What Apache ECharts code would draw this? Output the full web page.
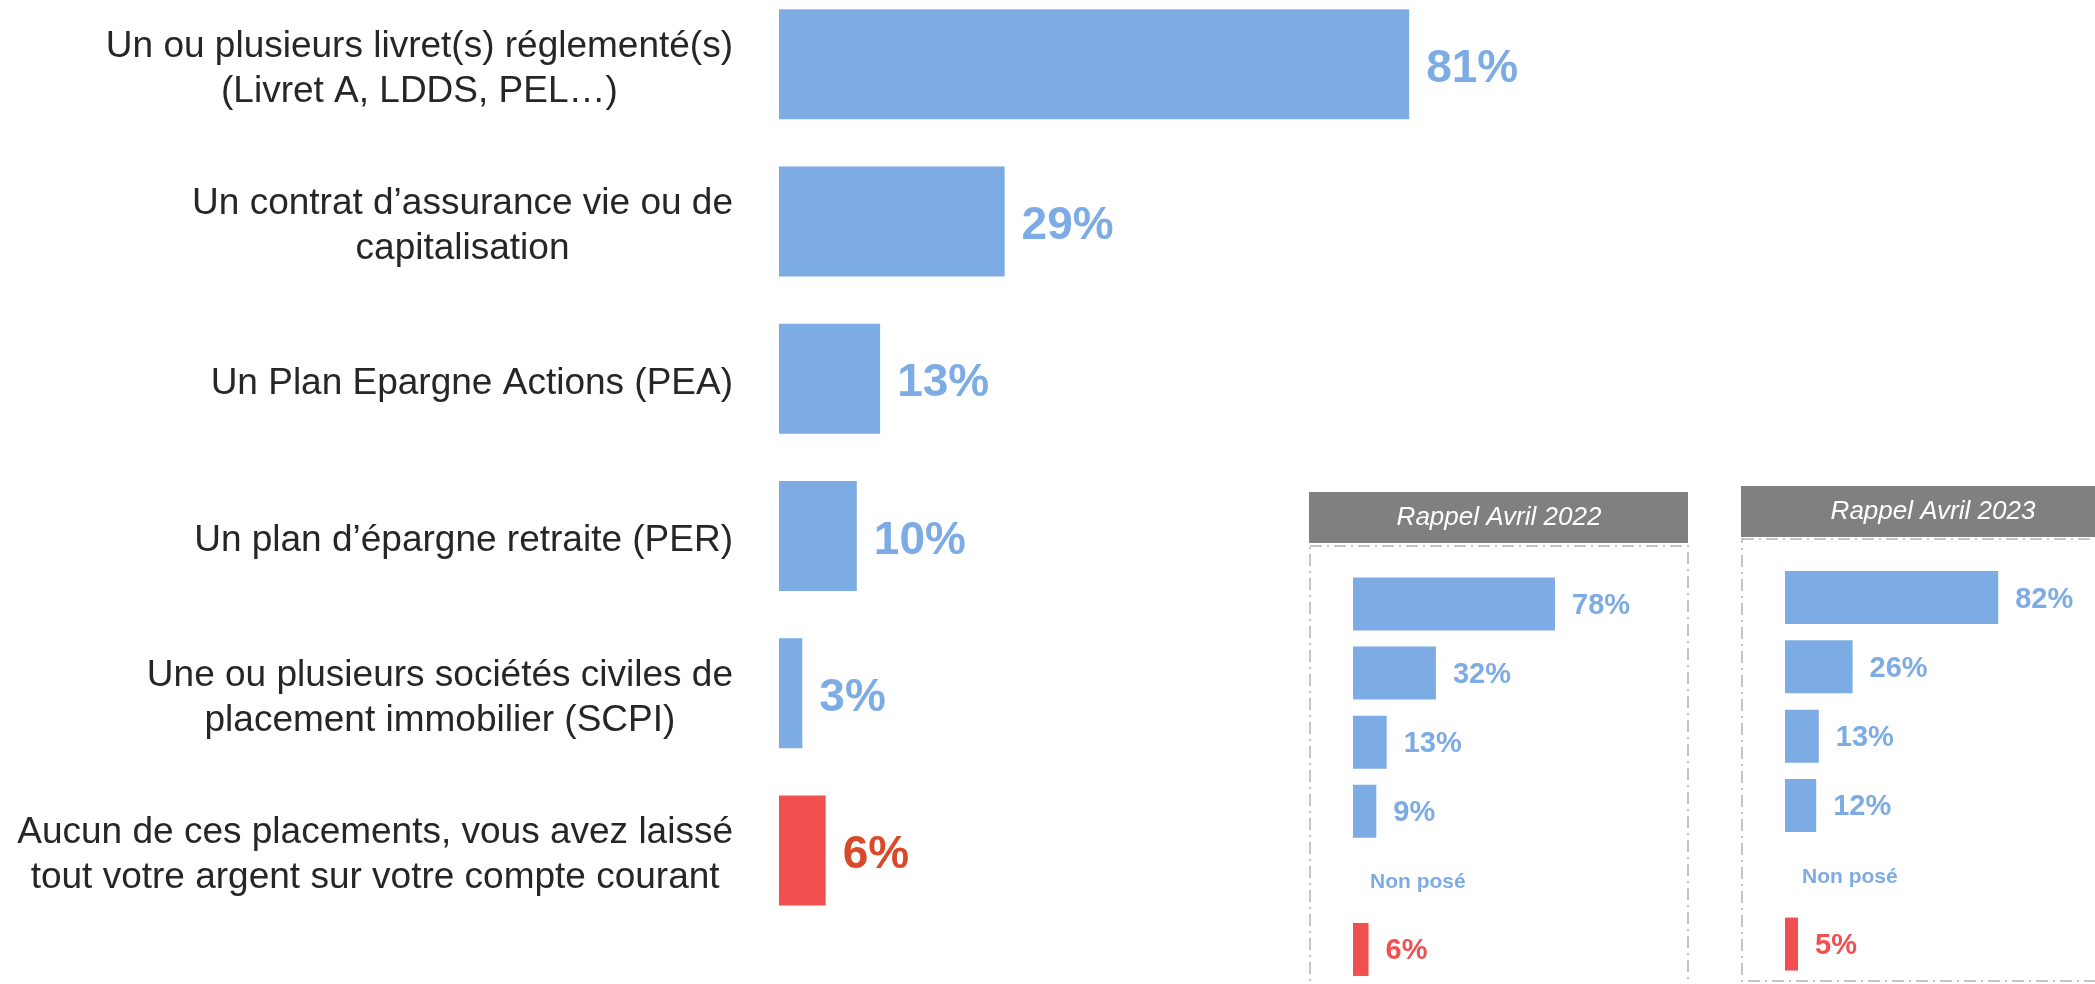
<!DOCTYPE html>
<html>
<head>
<meta charset="utf-8">
<script src="https://cdn.jsdelivr.net/npm/echarts@6/dist/echarts.min.js"></script>
<style>
  html, body { margin: 0; padding: 0; background: #fff; overflow: hidden; }
  /* decale de 15px vers le haut : la premiere barre touche presque le bord */
  #chart { position: absolute; left: 0; top: -15px; width: 2095px; height: 999px; }
</style>
</head>
<body>
<div id="chart"></div>
<script>
// donnees
var categories = [
    'Un ou plusieurs livret(s) réglementé(s)\n(Livret A, LDDS, PEL…)',
    'Un contrat d’assurance vie ou de\ncapitalisation',
    'Un Plan Epargne Actions (PEA)',
    'Un plan d’épargne retraite (PER)',
    'Une ou plusieurs sociétés civiles de\nplacement immobilier (SCPI)',
    'Aucun de ces placements, vous avez laissé\ntout votre argent sur votre compte courant'
];
var values = [81, 29, 13, 10, 3, 6];
var values2022 = [78, 32, 13, 9, null, 6];   // null = question non posée
var values2023 = [82, 26, 13, 12, null, 5];
var rappelTitles = ['Rappel Avril 2022', 'Rappel Avril 2023'];
var notAskedText = 'Non posé';

var FONT = '"Liberation Sans", Arial, sans-serif';
var BLUE = '#7DACE4';
var RED = '#F05050';
var RED_LABEL = '#D84A2A';
var OFF = 15; // decalage du conteneur

var myChart = echarts.init(document.getElementById('chart'));

function buildData(arr, big) {
    return arr.map(function (v, i) {
        var last = i === arr.length - 1;
        if (v === null) {
            return {
                value: 0,
                itemStyle: { color: BLUE },
                label: { formatter: notAskedText, fontSize: 21, color: BLUE }
            };
        }
        return {
            value: v,
            itemStyle: { color: last ? RED : BLUE },
            label: { color: last ? (big ? RED_LABEL : RED) : BLUE }
        };
    });
}

function catAxis(idx, showLabels) {
    return {
        type: 'category',
        gridIndex: idx,
        data: categories,
        inverse: true,
        axisLine: { show: false },
        axisTick: { show: false },
        splitLine: { show: false },
        axisLabel: showLabels ? {
            interval: 0,
            margin: 46,
            padding: [10, 0, 0, 0],
            formatter: function (v) {
                return v.split('\n').map(function (l) { return '{c|' + l + '}'; }).join('\n');
            },
            rich: {
                c: { align: 'center', fontSize: 37, lineHeight: 45, color: '#262626', fontFamily: FONT }
            }
        } : { show: false }
    };
}

function valAxis(idx) {
    return {
        type: 'value',
        gridIndex: idx,
        min: 0,
        max: 100,
        show: false,
        splitLine: { show: false }
    };
}

function barSeries(idx, arr, big, width) {
    return {
        type: 'bar',
        xAxisIndex: idx,
        yAxisIndex: idx,
        barWidth: width,
        silent: true,
        data: buildData(arr, big),
        label: {
            show: true,
            position: 'right',
            distance: 17,
            offset: big ? [0, 5] : [0, 2],
            fontFamily: FONT,
            fontWeight: 'bold',
            fontSize: big ? 46 : 29,
            formatter: '{c}%'
        }
    };
}

var dash = [12, 5, 2, 5];

var option = {
    animation: false,
    backgroundColor: '#fff',
    grid: [
        { left: 779, top: -14.5 + OFF, width: 778, height: 943.5 },
        { left: 1353, top: 569.4 + OFF, width: 259, height: 415.8 },
        { left: 1785, top: 562.9 + OFF, width: 260, height: 415.8 }
    ],
    xAxis: [valAxis(0), valAxis(1), valAxis(2)],
    yAxis: [catAxis(0, true), catAxis(1, false), catAxis(2, false)],
    series: [
        barSeries(0, values, true, 110),
        barSeries(1, values2022, false, 53),
        barSeries(2, values2023, false, 53)
    ],
    graphic: [
        { type: 'rect', shape: { x: 1309, y: 492 + OFF, width: 379, height: 51 }, style: { fill: '#808080' } },
        { type: 'rect', shape: { x: 1310, y: 546 + OFF, width: 378, height: 460 },
          style: { fill: 'none', stroke: '#C4C4C4', lineWidth: 2, lineDash: dash } },
        { type: 'text', style: { text: rappelTitles[0], x: 1499, y: 518 + OFF, fill: '#fff',
          font: 'italic 26px ' + FONT, textAlign: 'center', textVerticalAlign: 'middle',
          align: 'center', verticalAlign: 'middle' } },
        { type: 'rect', shape: { x: 1741, y: 486 + OFF, width: 400, height: 51 }, style: { fill: '#808080' } },
        { type: 'rect', shape: { x: 1742, y: 539 + OFF, width: 400, height: 442 },
          style: { fill: 'none', stroke: '#C4C4C4', lineWidth: 2, lineDash: dash } },
        { type: 'text', style: { text: rappelTitles[1], x: 1933, y: 512 + OFF, fill: '#fff',
          font: 'italic 26px ' + FONT, textAlign: 'center', textVerticalAlign: 'middle',
          align: 'center', verticalAlign: 'middle' } }
    ]
};

myChart.setOption(option);
</script>
</body>
</html>
